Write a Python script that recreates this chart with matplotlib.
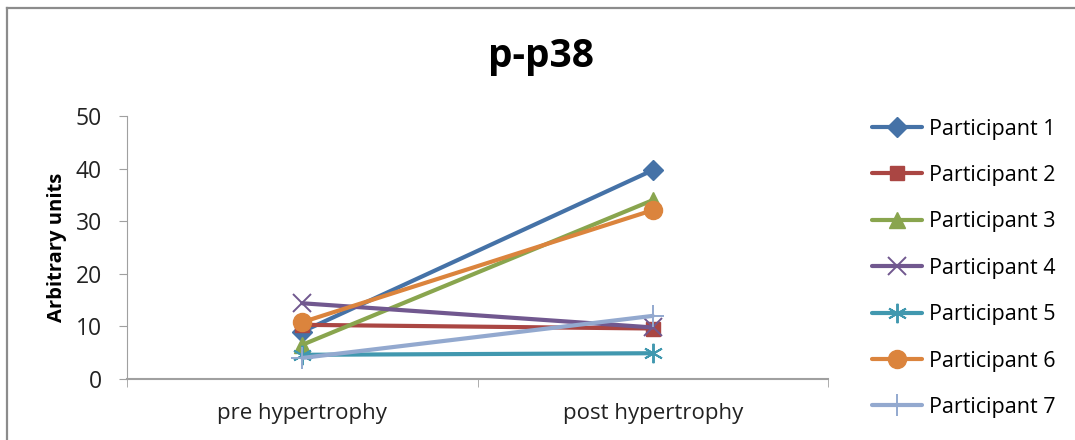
import matplotlib
matplotlib.use("Agg")
import matplotlib.pyplot as plt
from matplotlib.lines import Line2D

plt.rcParams["font.family"] = ["Open Sans", "DejaVu Sans"]

categories = ["pre hypertrophy", "post hypertrophy"]
participants = ["Participant 1", "Participant 2", "Participant 3", "Participant 4",
                "Participant 5", "Participant 6", "Participant 7"]
pre_values = [9.0, 10.3, 6.5, 14.4, 4.6, 10.8, 4.0]
post_values = [39.7, 9.6, 34.0, 9.8, 4.9, 32.1, 12.0]
colors = ["#4572A7", "#AA4643", "#89A54E", "#71588F", "#4198AF", "#DB843D", "#93A9CF"]
markers = ["D", "s", "^", "x", (6, 2, 0), "o", "+"]
marker_sizes = [10, 10, 11, 13, 14, 13, 16]
marker_edges = [1, 1, 1, 1.4, 1.4, 1, 1.4]

fig = plt.figure(figsize=(10.75, 4.4), dpi=100)

# outer chart frame (only top/left edges fall inside the picture)
fig.add_artist(Line2D([7 / 1075, 7 / 1075], [0, 1 - 8.5 / 440], color="#8c8c8c", lw=1.6))
fig.add_artist(Line2D([7 / 1075, 1], [1 - 8.5 / 440, 1 - 8.5 / 440], color="#8c8c8c", lw=1.6))

ax = fig.add_axes([127 / 1075, 1 - 379 / 440, (828 - 127) / 1075, (379 - 116) / 440])
xs = list(range(len(categories)))
for i, name in enumerate(participants):
    ax.plot(xs, [pre_values[i], post_values[i]], color=colors[i], lw=3,
            marker=markers[i], markersize=marker_sizes[i],
            markerfacecolor=colors[i], markeredgecolor=colors[i],
            markeredgewidth=marker_edges[i], label=name, solid_capstyle="round")

ax.set_xlim(-0.5, 1.5)
ax.set_ylim(0, 50)
ax.set_yticks(range(0, 51, 10))
ax.set_xticks(xs)
ax.set_xticklabels(categories)
ax.set_xticks([-0.5, 0.5, 1.5], minor=True)
ax.tick_params(axis="x", which="major", length=0, pad=17, labelsize=16, colors="#222222")
ax.tick_params(axis="x", which="minor", length=6, color="#a0a0a0", direction="out")
ax.tick_params(axis="y", length=6, labelsize=16.5, pad=12, colors="#222222")
ax.tick_params(axis="y", color="#a0a0a0")
for side in ("top", "right"):
    ax.spines[side].set_visible(False)
ax.spines["left"].set_color("#a0a0a0")
ax.spines["bottom"].set_color("#a0a0a0")
ax.spines["bottom"].set_linewidth(1.5)

ax.set_ylabel("Arbitrary units", fontsize=14.5, fontweight="bold", labelpad=6)
fig.text(541 / 1075, 1 - 57 / 440, "p-p38", fontsize=28, fontweight="bold",
         ha="center", va="center")

fig.legend(loc="upper left", bbox_to_anchor=(863 / 1075, 1 - 110 / 440),
           frameon=False, fontsize=15.5, handlelength=2.35, handletextpad=0.3,
           labelspacing=1.18, borderaxespad=0)

fig.savefig("out.png", dpi=100)
